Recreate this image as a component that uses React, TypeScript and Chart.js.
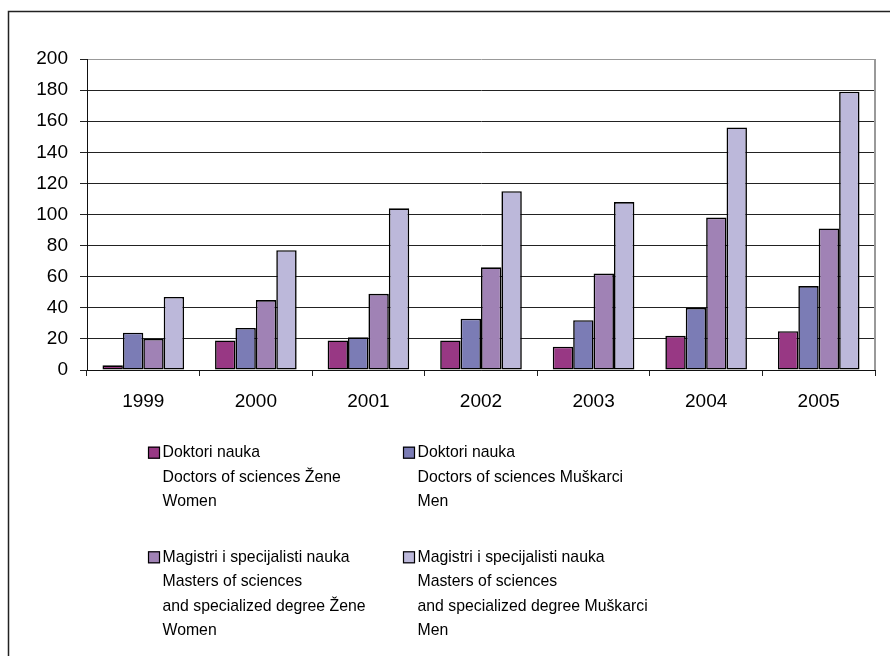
import React, { useEffect, useRef } from "react";
import { Chart, registerables } from "chart.js";

Chart.register(...registerables);

const years = ["1999", "2000", "2001", "2002", "2003", "2004", "2005"];
const doctorsWomen = [3, 19, 19, 19, 15, 22, 25];
const doctorsMen = [24, 27, 21, 33, 32, 40, 54];
const mastersWomen = [20, 45, 49, 66, 62, 98, 91];
const mastersMen = [47, 77, 104, 115, 108, 156, 179];

const seriesLabels: string[][] = [
  ["Doktori nauka", "Doctors of sciences Žene", "Women"],
  ["Doktori nauka", "Doctors of sciences Muškarci", "Men"],
  ["Magistri i specijalisti nauka", "Masters of sciences", "and specialized degree Žene", "Women"],
  ["Magistri i specijalisti nauka", "Masters of sciences", "and specialized degree Muškarci", "Men"],
];
const seriesColors = ["#983884", "#7b7cb5", "#a082b5", "#bcb8da"];
const yTicks = [0, 20, 40, 60, 80, 100, 120, 140, 160, 180, 200];

const FONT = "'Liberation Sans', Arial, sans-serif";

const framePlugin = {
  id: "frame",
  afterDraw(chart: any) {
    const ctx = chart.ctx;
    const a = chart.chartArea;
    ctx.save();
    ctx.strokeStyle = "#222";
    ctx.lineWidth = 1.5;
    ctx.beginPath();
    ctx.moveTo(8.5, 656);
    ctx.lineTo(8.5, 11.5);
    ctx.lineTo(890, 11.5);
    ctx.stroke();
    ctx.strokeStyle = "#999";
    ctx.lineWidth = 2;
    ctx.beginPath();
    ctx.moveTo(a.right, a.top);
    ctx.lineTo(a.right, a.bottom);
    ctx.stroke();
    ctx.restore();
  },
};

const legendPlugin = {
  id: "multiLegend",
  afterDraw(chart: any) {
    const ctx = chart.ctx;
    const ds = chart.data.datasets;
    const cols = [148, 403];
    const rows = [452.7, 557.3];
    const lineH = 24.4;
    const sx = 0.93;
    ctx.save();
    ctx.font = `17px ${FONT}`;
    ctx.textBaseline = "middle";
    ctx.textAlign = "left";
    ds.forEach((d: any, i: number) => {
      const x = cols[i % 2];
      const y = rows[Math.floor(i / 2)];
      ctx.fillStyle = d.backgroundColor;
      ctx.fillRect(x, y - 6, 12, 12);
      ctx.strokeStyle = "#000";
      ctx.lineWidth = 1.2;
      ctx.strokeRect(x + 0.5, y - 5.5, 11, 11);
      ctx.fillStyle = "#000";
      (d.label as string[]).forEach((line: string, k: number) => {
        ctx.save();
        ctx.translate(x + 14.5, y + k * lineH);
        ctx.scale(sx, 1);
        ctx.fillText(line, 0, 0);
        ctx.restore();
      });
    });
    ctx.restore();
  },
};

export default function App() {
  const ref = useRef<HTMLCanvasElement | null>(null);
  useEffect(() => {
    if (!ref.current) return;
    const values = [doctorsWomen, doctorsMen, mastersWomen, mastersMen];
    const chart = new Chart(ref.current, {
      type: "bar",
      data: {
        labels: years,
        datasets: values.map((v, i) => ({
          label: seriesLabels[i] as any,
          data: v,
          backgroundColor: seriesColors[i],
          borderColor: "#000",
          borderWidth: 1.6,
          borderSkipped: false,
          categoryPercentage: 0.725,
          barPercentage: 1,
        })),
      },
      options: {
        animation: false,
        responsive: false,
        devicePixelRatio: 1,
        layout: { padding: { top: 59, right: 15, left: 0, bottom: 246 } },
        plugins: {
          legend: { display: false },
          tooltip: { enabled: false },
          title: { display: false },
        },
        scales: {
          x: {
            offset: true,
            grid: {
              offset: true,
              drawOnChartArea: false,
              drawTicks: true,
              tickLength: 6,
              color: "#222",
              tickColor: "#222",
            },
            border: { display: true, color: "#111", width: 1 },
            ticks: {
              color: "#000",
              font: { family: FONT, size: 19 },
              padding: 14,
              maxRotation: 0,
            },
            afterFit: (s: any) => {
              s.height = 40;
            },
          },
          y: {
            min: 0,
            max: 200,
            afterBuildTicks: (s: any) => {
              s.ticks = yTicks.map((v) => ({ value: v }));
            },
            grid: {
              color: (c: any) => (c.tick && c.tick.value === 200 ? "#999" : "#222"),
              tickColor: "#222",
              tickLength: 7,
              lineWidth: 1,
            },
            border: { display: true, color: "#111", width: 1 },
            ticks: {
              color: "#000",
              font: { family: FONT, size: 19 },
              padding: 12,
            },
            afterFit: (s: any) => {
              s.width = 87;
            },
          },
        },
      },
      plugins: [framePlugin, legendPlugin],
    });
    return () => chart.destroy();
  }, []);
  return (
    <div style={{ position: "absolute", left: 0, top: 0, width: 890, height: 656, background: "#fff" }}>
      <canvas ref={ref} width={890} height={656} style={{ display: "block", width: 890, height: 656 }} />
    </div>
  );
}
